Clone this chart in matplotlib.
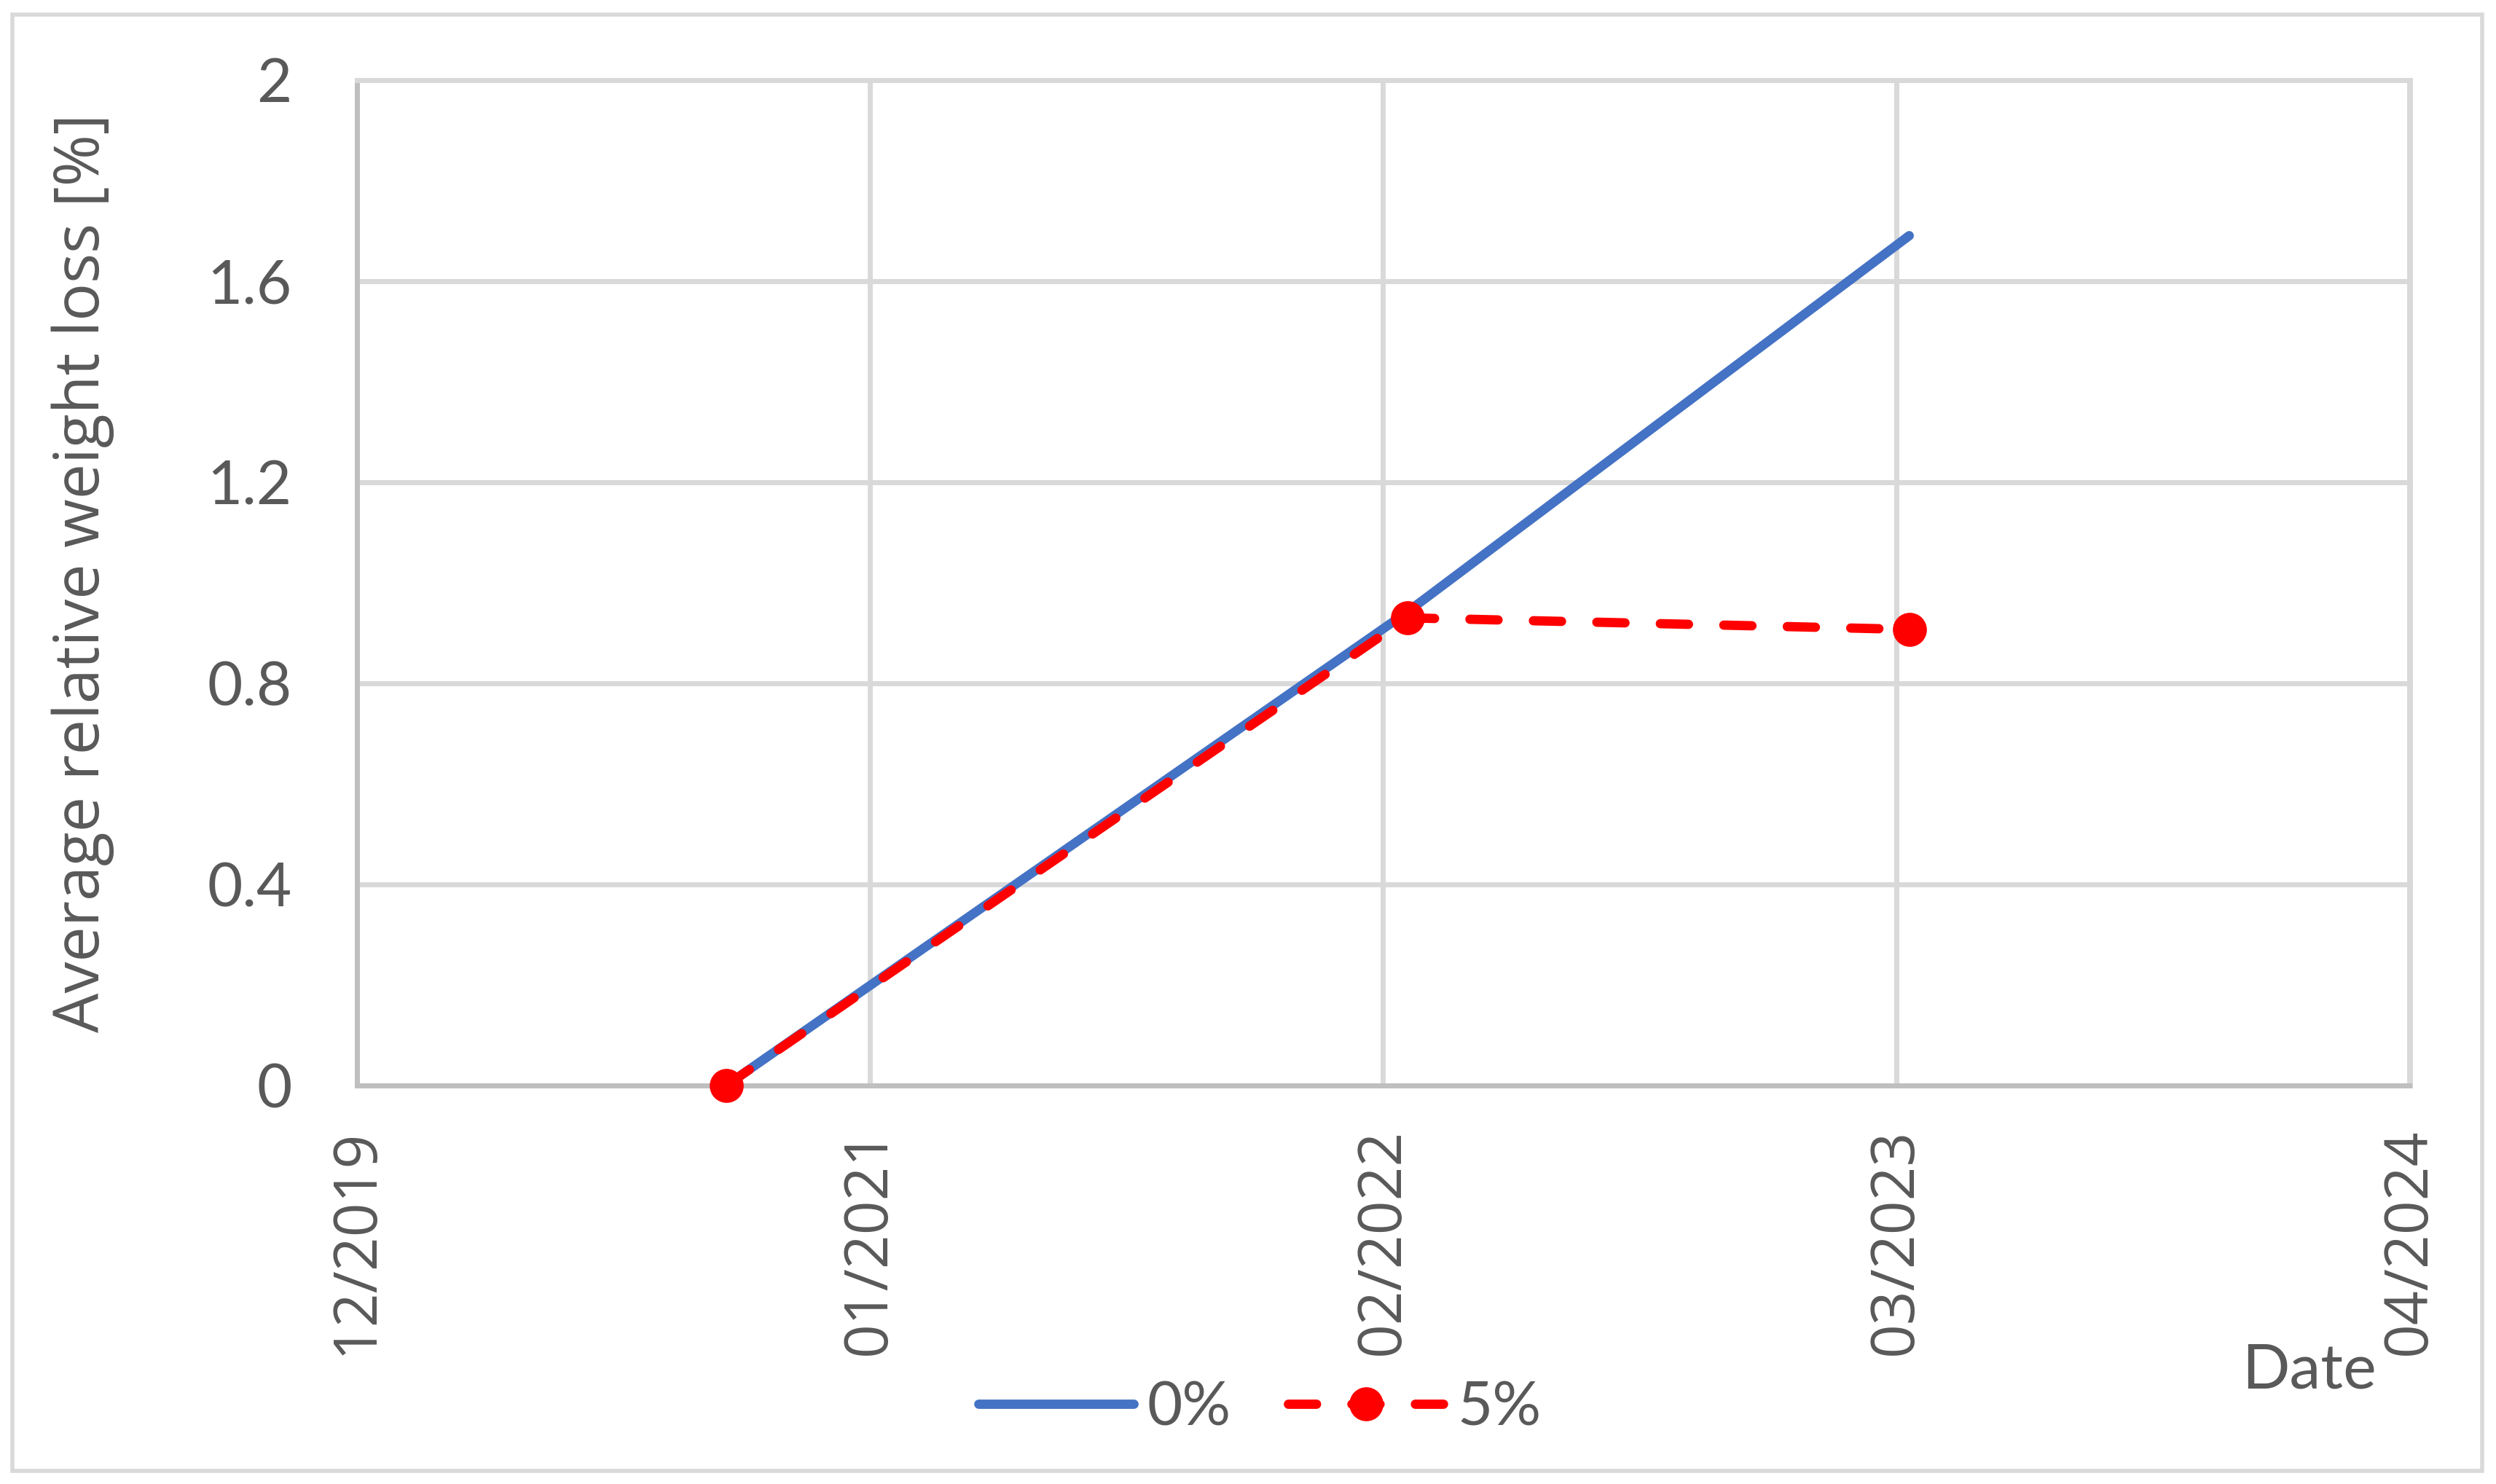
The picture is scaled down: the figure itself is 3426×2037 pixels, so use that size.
import matplotlib
matplotlib.use("Agg")
import matplotlib.pyplot as plt
from matplotlib.patches import Rectangle
from datetime import datetime

# ---- data ----
dates = ["2020-09-14", "2022-02-27", "2023-03-25"]
loss_0pct = [0.0, 0.942, 1.69]
loss_5pct = [0.0, 0.930, 0.907]
series_labels = ["0%", "5%"]
x_ticks = ["2019-12-01", "2021-01-04", "2022-02-08", "2023-03-15", "2024-04-18"]
x_tick_labels = ["12/2019", "01/2021", "02/2022", "03/2023", "04/2024"]
y_ticks = [0, 0.4, 0.8, 1.2, 1.6, 2.0]
y_tick_labels = ["0", "0.4", "0.8", "1.2", "1.6", "2"]
y_label = "Average relative weight loss [%]"
x_label = "Date"

# ---- style ----
TXT = "#595959"
GRID = "#D9D9D9"
AXLINE = "#BFBFBF"
BLUE = "#4472C4"
RED = "#FF0000"

W, H = 3426, 2037
DPI = 200
fig = plt.figure(figsize=(W / DPI, H / DPI), dpi=DPI)

L, R, T, B = 489.5, 3307.5, 109.5, 1490
ax = fig.add_axes([L / W, 1 - B / H, (R - L) / W, (B - T) / H])

xd = [datetime.strptime(d, "%Y-%m-%d") for d in dates]
xt = [datetime.strptime(d, "%Y-%m-%d") for d in x_ticks]

ax.plot(xd, loss_0pct, color=BLUE, lw=4.6, solid_capstyle="round",
        solid_joinstyle="round", label=series_labels[0], zorder=3, clip_on=False)
ax.plot(xd, loss_5pct, color=RED, lw=4.6, linestyle=(0, (3.02, 3.8)),
        dash_capstyle="round", marker="o", markersize=16.8, markeredgewidth=0,
        label=series_labels[1], zorder=4, clip_on=False)

ax.set_xlim(xt[0], xt[-1])
ax.set_ylim(0, 2)
ax.set_xticks(xt)
ax.set_xticklabels(x_tick_labels, rotation=90, fontfamily="Open Sans",
                   fontsize=29.5, color=TXT, va="top", ha="center")
ax.set_yticks(y_ticks)
ax.set_yticklabels(y_tick_labels, fontfamily="Lato", fontsize=30, color=TXT)
ax.tick_params(axis="both", length=0)
ax.tick_params(axis="x", pad=21)
ax.tick_params(axis="y", pad=32)

ax.grid(True, color=GRID, lw=2.5)
ax.set_axisbelow(True)
for s in ["left", "bottom"]:
    ax.spines[s].set_color(AXLINE)
    ax.spines[s].set_linewidth(2.5)
for s in ["top", "right"]:
    ax.spines[s].set_color(GRID)
    ax.spines[s].set_linewidth(2.5)

ax.set_ylabel(y_label, fontfamily="Open Sans", fontsize=31, color=TXT)
ax.yaxis.set_label_coords(-0.118, 0.51)

fig.text(3262 / W, 1 - 1905 / H, x_label, fontfamily="Lato", fontsize=31,
         color=TXT, ha="right", va="baseline")

leg = fig.legend(loc="center", bbox_to_anchor=(0.5047, 0.051), ncol=2,
                 frameon=False, handlelength=2.56, handletextpad=0.22,
                 columnspacing=0.94, prop={"family": "Lato", "size": 30})
for t in leg.get_texts():
    t.set_color(TXT)

# outer chart border
fig.patches.append(Rectangle((17 / W, 1 - 2019 / H), (3407 - 17) / W, (2019 - 20) / H,
                             transform=fig.transFigure, fill=False,
                             edgecolor=GRID, lw=2.0, zorder=0))

fig.savefig("out.png", dpi=DPI, facecolor="white")
